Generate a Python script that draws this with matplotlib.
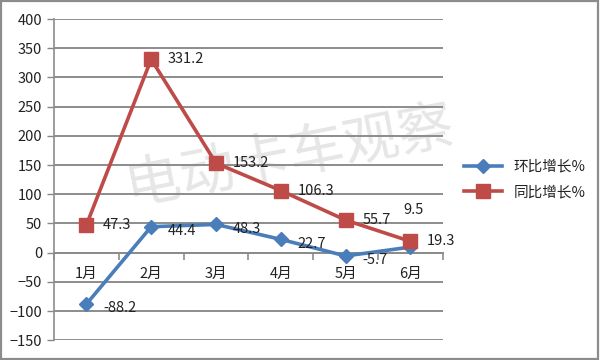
import matplotlib.pyplot as plt
import numpy as np

plt.rcParams['font.family'] = ['Noto Sans CJK SC', 'DejaVu Sans']

months = ['1月', '2月', '3月', '4月', '5月', '6月']
mom = [-88.2, 44.4, 48.3, 22.7, -5.7, 9.5]       # 环比增长%
yoy = [47.3, 331.2, 153.2, 106.3, 55.7, 19.3]    # 同比增长%
yticks = np.arange(-150, 401, 50)

blue = '#4A7EBB'
red = '#BE4B48'

fig = plt.figure(figsize=(6, 3.6), dpi=100)
ax = fig.add_axes([0.09, 0.055, 0.648, 0.892])
x = np.arange(len(months))

ax.plot(x, mom, color=blue, lw=2.6, marker='D', ms=7, label='环比增长%', zorder=4)
ax.plot(x, yoy, color=red, lw=2.6, marker='s', ms=10, label='同比增长%', zorder=5)

# data labels
for i, v in enumerate(yoy):
    ax.annotate('%.1f' % v, (x[i], v), xytext=(12, 0), textcoords='offset points',
                va='center', ha='left', fontsize=10.5, color='#222222', zorder=6)
for i, v in enumerate(mom):
    off = (12, -3)
    if i == len(mom) - 1:
        off = (-5, 27)
    ax.annotate('%.1f' % v, (x[i], v), xytext=off, textcoords='offset points',
                va='center', ha='left', fontsize=10.5, color='#222222', zorder=6)

ax.set_xlim(-0.5, len(months) - 0.5)
ax.set_ylim(-150, 400)
ax.set_yticks(yticks)
ax.tick_params(axis='y', labelsize=10.5, colors='#222222', length=5, width=1, color='#888888')
ax.yaxis.grid(True, color='#8c8c8c', lw=1.4, zorder=1)
ax.set_axisbelow(True)

# category axis at zero
ax.spines['bottom'].set_position(('data', 0))
ax.spines['bottom'].set_color('#8c8c8c')
ax.spines['bottom'].set_linewidth(1.4)
ax.set_xticks(x)
ax.set_xticklabels(months)
ax.set_xticks(np.arange(-0.5, len(months)), minor=True)
ax.tick_params(axis='x', which='major', length=0, pad=10, labelsize=10.5, labelcolor='#222222')
ax.tick_params(axis='x', which='minor', length=5, width=1.2, color='#8c8c8c', direction='out')
ax.spines['left'].set_color('#8c8c8c')
ax.spines['left'].set_linewidth(1.2)
ax.spines['top'].set_visible(False)
ax.spines['right'].set_visible(False)

leg = ax.legend(loc='center left', bbox_to_anchor=(1.02, 0.50), frameon=False,
                fontsize=10.5, handlelength=2.6, labelspacing=0.8)
for t in leg.get_texts():
    t.set_color('#222222')

# watermark, behind the lines
ax.text(0.483, 0.565, '电动卡车观察', transform=fig.transFigure, fontsize=40,
        color='#e6e6e6', rotation=11, ha='center', va='center', zorder=0.5,
        clip_on=False)

# outer frame
fig.patches.append(plt.Rectangle((0.002, 0.003), 0.994, 0.993, transform=fig.transFigure,
                                 fill=False, edgecolor='#8c8c8c', lw=1.6))

fig.savefig('out.png', dpi=100)
